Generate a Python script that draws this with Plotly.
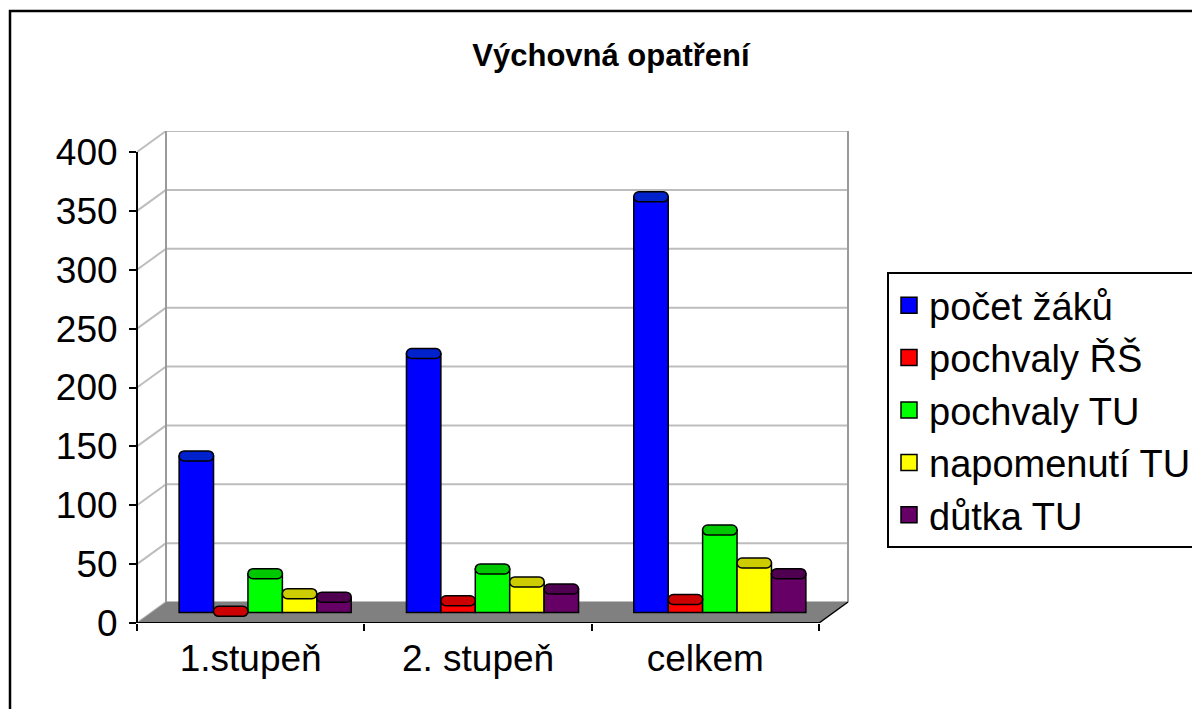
import plotly.graph_objects as go

# ---- data ----
categories = ["1.stupeň", "2. stupeň", "celkem"]
series_names = ["počet žáků", "pochvaly ŘŠ", "pochvaly TU", "napomenutí TU", "důtka TU"]
pocet_zaku = [133, 220, 353]
pochvaly_rs = [1, 10, 11]
pochvaly_tu = [33, 37, 70]
napomenuti_tu = [16, 26, 42]
dutka_tu = [13, 20, 33]
y_ticks = [0, 50, 100, 150, 200, 250, 300, 350, 400]

series_values = [pocet_zaku, pochvaly_rs, pochvaly_tu, napomenuti_tu, dutka_tu]
colors = ["#0000FF", "#FF0000", "#00FF00", "#FFFF00", "#660066"]
top_colors = ["#0022CC", "#CC0000", "#00C800", "#CCCC00", "#500050"]

FONT = "Liberation Sans, Arial, sans-serif"

# ---- geometry (pixels, page coordinates; page body has 8px margin) ----
OFF = 8
W, H = 1200 - OFF, 709 - OFF
L, R = 137 - OFF, 848 - OFF
T, B = 131 - OFF, 623 - OFF
DX, DY = 29, 21
PXU = 471 / 400
plot_w = R - L
plot_h = B - T
cat_w = (R - DX - L) / 3
CAP_BELOW, CAP_ABOVE = 5 / PXU, 5 / PXU   # top-face size in value units

def px2paper_x(p):
    return (p - OFF - L) / plot_w

def px2paper_y(p):
    return (B - (p - OFF)) / plot_h

fig = go.Figure()

for i, (name, vals, col) in enumerate(zip(series_names, series_values, colors)):
    fig.add_trace(go.Bar(
        x=categories, y=vals, name=name, xaxis="x", yaxis="y", offsetgroup=str(i),
        marker=dict(color=col, line=dict(color="black", width=1.5)),
        legendgroup=name, showlegend=False, hoverinfo="x+y+name",
    ))
# top faces of the bars
for i, (name, vals, tc) in enumerate(zip(series_names, series_values, top_colors)):
    fig.add_trace(go.Bar(
        x=categories, y=[CAP_BELOW + CAP_ABOVE] * len(vals),
        base=[v - CAP_BELOW for v in vals], name=name, xaxis="x", yaxis="y",
        offsetgroup=str(i),
        marker=dict(color=tc, line=dict(color="black", width=1.5), cornerradius="45%"),
        legendgroup=name, showlegend=False, hoverinfo="skip",
    ))
for name, col in zip(series_names, colors):
    fig.add_trace(go.Scatter(
        x=[None], y=[None], name=name, mode="markers", xaxis="x", yaxis="y",
        marker=dict(symbol="square", size=22, color=col, line=dict(color="black", width=1.5)),
        legendgroup=name, showlegend=True,
    ))

fig.add_trace(go.Scatter(x=categories, y=[0, 0, 0], xaxis="x2", yaxis="y2",
                         mode="markers", marker=dict(opacity=0), showlegend=False,
                         hoverinfo="skip"))

front_x_range = [-0.5, -0.5 + plot_w / cat_w]
shift = (DX / 2) / cat_w
bar_x_range = [front_x_range[0] - shift, front_x_range[1] - shift]
front_y_range = [0, plot_h / PXU]
bar_y_range = [-(DY / 2) / PXU, (B - DY / 2 - T) / PXU]
back_y_range = [-DY / PXU, (B - DY - T) / PXU]

shapes = []
x_back0 = DX / plot_w
x_back1 = 1.0
x_front1 = (plot_w - DX) / plot_w
back_off = DY / PXU

for v in y_ticks:
    shapes.append(dict(type="line", xref="paper", yref="y3", x0=x_back0, x1=x_back1,
                       y0=v, y1=v, line=dict(color="#BDBDBD", width=2), layer="below"))
    shapes.append(dict(type="line", xref="paper", yref="y3", x0=0, x1=x_back0,
                       y0=v - back_off, y1=v, line=dict(color="#BDBDBD", width=2), layer="below"))
for xb in (x_back0, x_back1):
    shapes.append(dict(type="line", xref="paper", yref="y3", x0=xb, x1=xb,
                       y0=0, y1=y_ticks[-1], line=dict(color="#9A9A9A", width=2), layer="below"))
shapes.append(dict(type="path", xref="paper", yref="y3",
                   path=f"M 0 {-back_off} L {x_front1} {-back_off} L {x_back1} 0 L {x_back0} 0 Z",
                   fillcolor="#808080", line=dict(width=0), layer="below"))
shapes.append(dict(type="line", xref="paper", yref="y3", x0=x_front1, x1=x_back1,
                   y0=-back_off, y1=0, line=dict(color="black", width=1.5)))
shapes.append(dict(type="line", xref="paper", yref="y2", x0=0, x1=x_front1,
                   y0=0, y1=0, line=dict(color="black", width=2)))
shapes.append(dict(type="line", xref="paper", yref="y2", x0=0, x1=0,
                   y0=0, y1=y_ticks[-1], line=dict(color="black", width=2)))
shapes.append(dict(type="rect", xref="paper", yref="paper",
                   x0=px2paper_x(10), x1=px2paper_x(1260),
                   y0=px2paper_y(760), y1=px2paper_y(11),
                   line=dict(color="black", width=2.5), fillcolor="rgba(0,0,0,0)"))

fig.update_layout(
    width=W, height=H,
    margin=dict(l=L, r=W - R, t=T, b=H - B, pad=0, autoexpand=False),
    paper_bgcolor="white", plot_bgcolor="rgba(0,0,0,0)",
    barmode="group", bargap=0.243, bargroupgap=0,
    font=dict(family=FONT, color="black", size=36),
    title=dict(text="<b>Výchovná opatření</b>", x=(611 - OFF) / W, xref="container",
               xanchor="center", y=1 - (55 - OFF) / H, yref="container", yanchor="middle",
               font=dict(family=FONT, size=31, color="black")),
    xaxis=dict(type="category", range=bar_x_range, visible=False, fixedrange=True),
    yaxis=dict(range=bar_y_range, visible=False, fixedrange=True),
    xaxis2=dict(type="category", range=front_x_range, overlaying="x", anchor="y2",
                side="bottom", tickson="boundaries", ticks="outside", ticklen=7,
                tickwidth=2, tickcolor="black", showgrid=False, showline=False,
                zeroline=False, ticklabelstandoff=10, tickfont=dict(size=37, family=FONT)),
    yaxis2=dict(range=front_y_range, overlaying="y", anchor="x2", side="left",
                tickvals=y_ticks, ticks="outside", ticklen=7, tickwidth=2, tickcolor="black",
                showgrid=False, showline=False, zeroline=False, ticklabelstandoff=4,
                tickfont=dict(size=37, family=FONT)),
    yaxis3=dict(range=back_y_range, overlaying="y", visible=False),
    shapes=shapes,
    showlegend=True,
    legend=dict(x=px2paper_x(887), y=px2paper_y(272), xanchor="left", yanchor="top",
                bordercolor="black", borderwidth=2, bgcolor="white",
                font=dict(size=38, family=FONT), tracegroupgap=0,
                itemclick=False, itemdoubleclick=False, itemsizing="trace"),
)

fig.write_html("out.html")
